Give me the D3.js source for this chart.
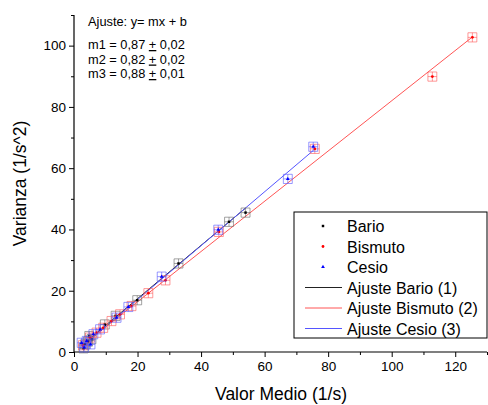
<html lang="es">
<head>
<meta charset="utf-8">
<title>Varianza vs Valor Medio</title>
<script src="https://d3js.org/d3.v7.min.js"></script>
<style>
  body { margin: 0; background: #fff; }
  text { font-family: Arial, "Liberation Sans", sans-serif; }
</style>
</head>
<body>
<div id="chart"></div>
<script>
// puntos medidos: [valor medio, varianza]
var bario = [[3.0,1.2],[3.5,2.5],[4.4,3.4],[4.8,5.2],[5.5,4.2],[9.7,9.0],[13.1,11.8],[19.9,16.9],[32.9,28.9],[48.8,42.5],[54.0,45.5]];
var bismuto = [[2.8,2.2],[5.0,4.7],[7.1,6.3],[9.2,7.9],[11.8,10.1],[14.5,12.3],[18.1,15.0],[23.4,19.2],[28.8,23.4],[45.6,39.2],[75.8,66.3],[112.8,89.9],[125.4,102.7]];
var cesio = [[2.4,3.0],[3.2,1.5],[4.0,3.6],[5.2,2.5],[6.1,5.8],[8.2,7.4],[13.4,11.2],[17.1,14.7],[27.6,24.6],[45.4,39.9],[67.3,56.5],[75.3,67.0]];

var seriesNames = ["Bario", "Bismuto", "Cesio"];
var fitNames = ["Ajuste Bario (1)", "Ajuste Bismuto (2)", "Ajuste Cesio (3)"];
var fitSlope = [0.87, 0.82, 0.88];
var fitIntercept = [0.0, 0.0, -0.5];
var errX = 1.4, errY = 1.5;
var xTicks = [0, 20, 40, 60, 80, 100, 120];
var yTicks = [0, 20, 40, 60, 80, 100];
var notes = ["Ajuste: y= mx + b", "", "m1 = 0,87 ", "m2 = 0,82 ", "m3 = 0,88 "];
var noteErr = ["", "", "0,02", "0,02", "0,01"];

var allSeries = [bario, bismuto, cesio];
var colors = ["#000000", "#ff0000", "#0000ff"];
var fitColors = ["#222222", "#ff5555", "#5555ff"];
var errColors = ["#666666", "#ff5555", "#5555ff"];

var W = 488, H = 405;
var margin = {top: 15, right: 1, bottom: 53, left: 74};
var width = W - margin.left - margin.right,
    height = H - margin.top - margin.bottom;

var svg = d3.select("#chart").append("svg")
    .attr("width", W).attr("height", H);
var g = svg.append("g")
    .attr("transform", "translate(" + margin.left + "," + margin.top + ")");

var x = d3.scaleLinear().domain([0, 130]).range([0, width]);
var y = d3.scaleLinear().domain([0, 110]).range([height, 0]);

// axes
var xAxis = g.append("g").attr("transform", "translate(0," + height + ")")
  .call(d3.axisBottom(x).tickValues(xTicks).tickSize(5).tickPadding(4));
g.append("g").attr("transform", "translate(0," + height + ")")
  .call(d3.axisBottom(x).tickValues(d3.range(10, 131, 20)).tickSize(3).tickFormat(""))
  .select(".domain").remove();
var yAxis = g.append("g")
  .call(d3.axisLeft(y).tickValues(yTicks).tickSize(5).tickPadding(3));
g.append("g")
  .call(d3.axisLeft(y).tickValues(d3.range(10, 111, 20)).tickSize(3).tickFormat(""))
  .select(".domain").remove();
g.selectAll(".tick text").attr("font-size", 13.5).attr("fill", "#000");
g.selectAll(".domain").attr("stroke", "#000").attr("stroke-width", 1.2);
xAxis.selectAll(".domain").attr("d", "M0,0H" + width);
yAxis.selectAll(".domain").attr("d", "M0," + height + "V0");

// titles
svg.append("text").attr("x", 281).attr("y", 400)
  .attr("text-anchor", "middle").attr("font-size", 17.5).text("Valor Medio (1/s)");
svg.append("text").attr("transform", "translate(26," + (margin.top + height / 2) + ") rotate(-90)")
  .attr("text-anchor", "middle").attr("font-size", 17.5).text("Varianza (1/s^2)");

// fit lines
allSeries.forEach(function(s, i) {
  var ext = d3.extent(s, function(d) { return d[0]; });
  g.append("line")
    .attr("x1", x(ext[0])).attr("y1", y(fitSlope[i] * ext[0] + fitIntercept[i]))
    .attr("x2", x(ext[1])).attr("y2", y(fitSlope[i] * ext[1] + fitIntercept[i]))
    .attr("stroke", fitColors[i]).attr("stroke-width", 1);
});

// error bars + markers
allSeries.forEach(function(s, i) {
  var eg = g.append("g").attr("stroke", errColors[i]).attr("stroke-width", 1)
    .attr("stroke-opacity", 0.6).attr("fill", "none");
  s.forEach(function(d) {
    var cx = x(d[0]), cy = y(d[1]);
    var x0 = x(d[0] - errX), x1 = x(d[0] + errX);
    var y0 = y(d[1] - errY), y1 = y(d[1] + errY);
    eg.append("path").attr("d",
      "M" + x0 + "," + cy + "H" + x1 +
      "M" + x0 + "," + y1 + "V" + y0 +
      "M" + x1 + "," + y1 + "V" + y0 +
      "M" + cx + "," + y1 + "V" + y0 +
      "M" + x0 + "," + y1 + "H" + x1 +
      "M" + x0 + "," + y0 + "H" + x1);
  });
  var sym = [d3.symbolSquare, d3.symbolCircle, d3.symbolTriangle][i];
  g.append("g").selectAll("path").data(s).enter().append("path")
    .attr("d", d3.symbol().type(sym).size(6))
    .attr("transform", function(d) { return "translate(" + x(d[0]) + "," + y(d[1]) + ")"; })
    .attr("fill", colors[i]);
});

// annotation
var ann = svg.append("g").attr("font-size", 12.8);
notes.forEach(function(t, i) {
  if (!t) return;
  var yy = i === 0 ? 26 : 26 + 14.5 * i - 6;
  var tx = ann.append("text").attr("x", 88).attr("y", yy);
  tx.append("tspan").text(t);
  if (noteErr[i]) {
    tx.append("tspan").attr("text-decoration", "underline").text("+");
    tx.append("tspan").text(" " + noteErr[i]);
  }
});

// legend
var lg = svg.append("g").attr("transform", "translate(294,212)");
lg.append("rect").attr("width", 193).attr("height", 126)
  .attr("fill", "#fff").attr("stroke", "#000").attr("stroke-width", 1);
var rows = seriesNames.concat(fitNames);
rows.forEach(function(name, i) {
  var ry = 14 + i * 20.5;
  if (i < 3) {
    var sym = [d3.symbolSquare, d3.symbolCircle, d3.symbolTriangle][i];
    lg.append("path").attr("d", d3.symbol().type(sym).size(6))
      .attr("transform", "translate(29," + ry + ")").attr("fill", colors[i]);
  } else {
    lg.append("line").attr("x1", 11).attr("x2", 48).attr("y1", ry).attr("y2", ry)
      .attr("stroke", fitColors[i - 3]).attr("stroke-width", 1);
  }
  lg.append("text").attr("x", 53).attr("y", ry + 6).attr("font-size", 16).text(name);
});
</script>
</body>
</html>
